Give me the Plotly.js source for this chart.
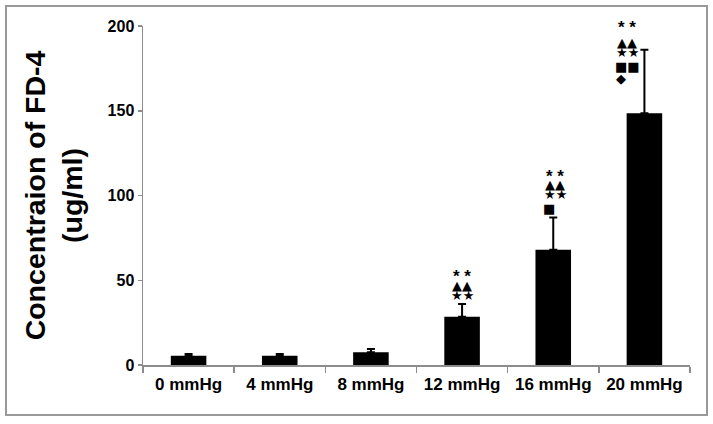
<!DOCTYPE html>
<html><head><meta charset="utf-8">
<script src="https://cdn.plot.ly/plotly-3.0.1.min.js"></script>
<style>body{margin:0;background:#fff}#chart{width:713px;height:424px}</style>
</head><body><div id="chart"></div>
<script>
const categories = ["0 mmHg", "4 mmHg", "8 mmHg", "12 mmHg", "16 mmHg", "20 mmHg"];
const means = [5.5, 5.5, 7.5, 28.5, 68, 148.5];
const sdPlus = [1.0, 1.0, 2.0, 7.5, 19, 37.5];
const yTicks = [0, 50, 100, 150, 200];

// significance marks per category, rows from top to bottom
const sigMarks12 = ["**", "▲▲", "★★"];
const sigMarks16 = ["**", "▲▲", "★★", "■"];
const sigMarks20 = ["**", "▲▲", "★★", "■■", "◆"];
const sigGroups = [
  {cat: "12 mmHg", marks: sigMarks12, rows: [54.3, 47.2, 41.3], shift: 0},
  {cat: "16 mmHg", marks: sigMarks16, rows: [113.3, 106.2, 100.3, 92.6], shift: 2},
  {cat: "20 mmHg", marks: sigMarks20, rows: [201.2, 190, 184.1, 176.4, 169.3], shift: -17}
];

const pxPerUnit = 339 / 200;
const annotations = [];
sigGroups.forEach(g => {
  g.marks.forEach((txt, i) => {
    const single = txt.length === 1;
    const isAst = txt.indexOf('*') >= 0;
    let yv = g.rows[i], extra = 0;
    if (yv > 200) { extra = (yv - 200) * pxPerUnit; yv = 200; }
    annotations.push({
      x: g.cat, xref: 'x', y: yv, yref: 'y',
      yshift: extra + (isAst ? -4 : 0),
      xshift: g.shift + (single ? -6 : 0),
      text: isAst ? '* *' : txt, showarrow: false,
      font: {family: isAst ? 'Arial, Liberation Sans' : 'DejaVu Sans', size: isAst ? 17 : 13,
             weight: isAst ? 'bold' : 'normal', color: '#000'},
      xanchor: 'center', yanchor: 'middle'
    });
  });
});

const data = [{
  type: 'bar', x: categories, y: means,
  marker: {color: '#000', line: {width: 0}},
  width: 0.39,
  error_y: {type: 'data', array: sdPlus, arrayminus: sdPlus.map(() => 0), symmetric: false,
            color: '#000', thickness: 2, width: 4}
}];

const layout = {
  width: 713, height: 424,
  margin: {l: 143, r: 23, t: 26, b: 59},
  paper_bgcolor: '#fff', plot_bgcolor: '#fff',
  showlegend: false,
  font: {family: 'Arial, Liberation Sans, sans-serif', color: '#000'},
  xaxis: {
    range: [-0.5, 5.5], showgrid: false, zeroline: false,
    showline: true, linecolor: '#8c8c8c', linewidth: 1.5,
    ticks: 'outside', tickson: 'boundaries', ticklen: 6, tickcolor: '#8c8c8c', tickwidth: 1.5,
    ticklabelstandoff: 3,
    tickfont: {size: 17, family: 'Arial, Liberation Sans', weight: 'bold', color: '#000'}
  },
  yaxis: {
    range: [0, 200], tickvals: yTicks, showgrid: false, zeroline: false,
    showline: true, linecolor: '#8c8c8c', linewidth: 1.5,
    ticks: 'outside', ticklen: 4, tickcolor: '#8c8c8c', tickwidth: 1.5,
    tickfont: {size: 16, family: 'Arial, Liberation Sans', weight: 'bold', color: '#000'},
    title: {text: 'Concentraion of FD-4<br>(ug/ml)', standoff: 16,
            font: {size: 28.5, family: 'Arial, Liberation Sans', weight: 'bold', color: '#000'}}
  },
  shapes: [{
    type: 'rect', xref: 'paper', yref: 'paper',
    x0: (6 - 143) / 547, x1: (707 - 143) / 547,
    y0: (365 - 415) / 339, y1: (365 - 6) / 339,
    line: {color: '#999', width: 2}, fillcolor: 'rgba(0,0,0,0)', layer: 'below'
  }],
  annotations: annotations
};

Plotly.newPlot('chart', data, layout, {displayModeBar: false, staticPlot: true});
</script></body></html>
